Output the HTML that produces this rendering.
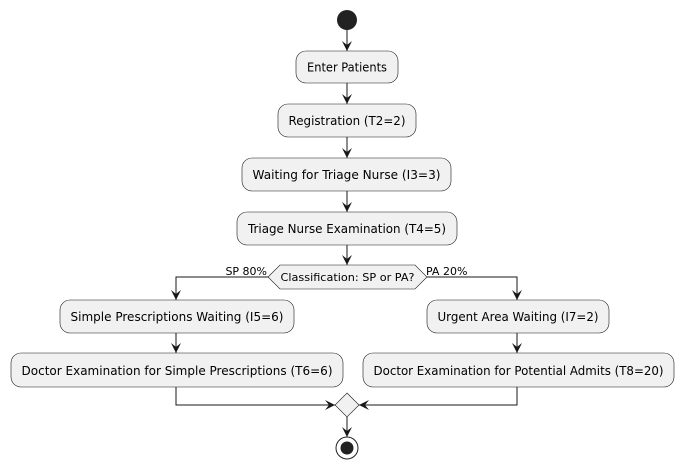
<!DOCTYPE html>
<html><head><style>body{margin:0;background:#fff}svg{display:block}</style></head><body>
<svg width="683" height="469" viewBox="0 0 683 469" xmlns="http://www.w3.org/2000/svg" font-family="DejaVu Sans, Liberation Sans, sans-serif">
<defs><marker id="a" viewBox="0 0 10 10" refX="10" refY="5" markerWidth="10" markerHeight="10" markerUnits="userSpaceOnUse" orient="auto"><path d="M0,0 L10,5 L0,10 L4,5 Z" fill="#181818"/></marker></defs>
<g stroke="#181818" stroke-width="1" fill="none">
<line x1="347" y1="30" x2="347" y2="51" marker-end="url(#a)"/>
<line x1="347" y1="83" x2="347" y2="104" marker-end="url(#a)"/>
<line x1="347" y1="137" x2="347" y2="158" marker-end="url(#a)"/>
<line x1="347" y1="191" x2="347" y2="212" marker-end="url(#a)"/>
<line x1="347" y1="245" x2="347" y2="265" marker-end="url(#a)"/>
<polyline points="268,277 176,277 176,300" marker-end="url(#a)"/>
<polyline points="427,277 517,277 517,300" marker-end="url(#a)"/>
<line x1="176" y1="333" x2="176" y2="353" marker-end="url(#a)"/>
<line x1="517" y1="333" x2="517" y2="353" marker-end="url(#a)"/>
<polyline points="176,387 176,405 335,405" marker-end="url(#a)"/>
<polyline points="517,387 517,405 359,405" marker-end="url(#a)"/>
<line x1="347" y1="417" x2="347" y2="437" marker-end="url(#a)"/>
</g>
<circle cx="347" cy="20" r="10" fill="#222"/>
<g fill="#f1f1f1" stroke="#181818" stroke-width="0.6">
<rect x="296" y="51" width="102" height="32" rx="10"/>
<rect x="278" y="104" width="138" height="33" rx="10"/>
<rect x="242" y="158" width="209" height="33" rx="10"/>
<rect x="237" y="212" width="220" height="33" rx="10"/>
<polygon points="268,277 280,265 415,265 427,277 415,289 280,289"/>
<rect x="60" y="300" width="234" height="33" rx="10"/>
<rect x="11" y="353" width="332" height="34" rx="10"/>
<rect x="427" y="300" width="182" height="33" rx="10"/>
<rect x="363" y="353" width="311" height="34" rx="10"/>
<polygon points="347,393 359,405 347,417 335,405"/>
</g>
<circle cx="347" cy="448" r="11" fill="none" stroke="#222" stroke-width="1"/>
<circle cx="347" cy="448" r="6.5" fill="#222"/>
<g font-size="12" fill="#000" text-anchor="middle">
<text x="347" y="71.5" textLength="80" lengthAdjust="spacingAndGlyphs">Enter Patients</text>
<text x="347" y="125" textLength="117" lengthAdjust="spacingAndGlyphs">Registration (T2=2)</text>
<text x="346.5" y="179" textLength="188" lengthAdjust="spacingAndGlyphs">Waiting for Triage Nurse (I3=3)</text>
<text x="347" y="233" textLength="198" lengthAdjust="spacingAndGlyphs">Triage Nurse Examination (T4=5)</text>
<text x="177" y="321" textLength="213" lengthAdjust="spacingAndGlyphs">Simple Prescriptions Waiting (I5=6)</text>
<text x="177" y="375" textLength="311" lengthAdjust="spacingAndGlyphs">Doctor Examination for Simple Prescriptions (T6=6)</text>
<text x="518" y="321" textLength="161" lengthAdjust="spacingAndGlyphs">Urgent Area Waiting (I7=2)</text>
<text x="518.5" y="375" textLength="290" lengthAdjust="spacingAndGlyphs">Doctor Examination for Potential Admits (T8=20)</text>
</g>
<g font-size="11" fill="#000">
<text x="347.5" y="281" text-anchor="middle" textLength="134" lengthAdjust="spacingAndGlyphs">Classification: SP or PA?</text>
<text x="267" y="275" text-anchor="end">SP 80%</text>
<text x="426" y="275">PA 20%</text>
</g>
</svg>
</body></html>
